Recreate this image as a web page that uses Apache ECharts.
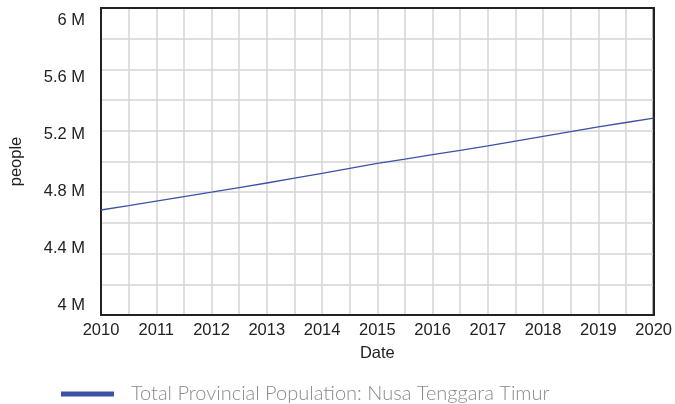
<!DOCTYPE html>
<html>
<head>
<meta charset="utf-8">
<script src="https://cdn.jsdelivr.net/npm/echarts@6/dist/echarts.min.js"></script>
<style>html,body{margin:0;padding:0;background:#fff}#c{width:675px;height:404px}</style>
</head>
<body>
<div id="c"></div>
<script>
// Data (half-yearly readings)
var dates = [2010, 2010.5, 2011, 2011.5, 2012, 2012.5, 2013, 2013.5, 2014, 2014.5, 2015, 2015.5, 2016, 2016.5, 2017, 2017.5, 2018, 2018.5, 2019, 2019.5, 2020];
var population = [4684000, 4712000, 4742000, 4771000, 4800000, 4830000, 4860000, 4891000, 4922000, 4955000, 4988000, 5016000, 5045000, 5073000, 5102000, 5133000, 5164000, 5194000, 5225000, 5254000, 5283000];
var yTickValues = [4000000, 4400000, 4800000, 5200000, 5600000, 6000000];
var seriesName = 'Total Provincial Population: Nusa Tenggara Timur';

var chart = echarts.init(document.getElementById('c'), null, {renderer: 'canvas'});
var axisFont = 'Liberation Sans, Arial, sans-serif';
function fmtM(v) { return (v / 1e6).toString() + ' M'; }

chart.setOption({
  animation: false,
  backgroundColor: '#fff',
  grid: {left: 98, right: 21, top: 8, bottom: 89, show: true, borderColor: '#222', borderWidth: 2, backgroundColor: 'transparent'},
  xAxis: [{
    type: 'value', min: 2010, max: 2020, interval: 0.5,
    name: 'Date', nameLocation: 'middle', nameGap: 30,
    nameTextStyle: {fontFamily: axisFont, fontSize: 16.5, color: '#222'},
    axisLine: {show: true, lineStyle: {color: '#222', width: 2}},
    axisTick: {show: false},
    splitLine: {show: true, showMinLine: false, showMaxLine: false, lineStyle: {color: '#d4d4d4', width: 1.5}},
    axisLabel: {
      fontFamily: axisFont, fontSize: 16.5, color: '#222', margin: 7,
      formatter: function (v) { return (Math.abs(v - Math.round(v)) < 1e-6) ? String(Math.round(v)) : ''; }
    }
  }, {
    type: 'value', min: 2010, max: 2020, position: 'top',
    axisLine: {show: true, onZero: false, lineStyle: {color: '#222', width: 2}},
    axisTick: {show: false}, axisLabel: {show: false}, splitLine: {show: false}
  }],
  yAxis: [{
    type: 'value', min: 4000000, max: 6000000, interval: 200000,
    axisLine: {show: true, lineStyle: {color: '#222', width: 2}},
    axisTick: {show: false},
    axisLabel: {show: false},
    splitLine: {show: true, showMinLine: false, showMaxLine: false, lineStyle: {color: '#d4d4d4', width: 1.5}}
  }, {
    type: 'value', min: 3932000, max: 6086000, position: 'left',
    name: 'people', nameLocation: 'middle', nameGap: 76,
    nameTextStyle: {fontFamily: axisFont, fontSize: 16.5, color: '#222'},
    axisLine: {show: false},
    axisTick: {show: false},
    splitLine: {show: false},
    axisLabel: {
      customValues: yTickValues, showMinLabel: true, showMaxLabel: true,
      fontFamily: axisFont, fontSize: 16.5, color: '#222', margin: 16,
      formatter: fmtM
    }
  }, {
    type: 'value', min: 4000000, max: 6000000, position: 'right',
    axisLine: {show: true, onZero: false, lineStyle: {color: '#222', width: 2}},
    axisTick: {show: false}, axisLabel: {show: false}, splitLine: {show: false}
  }],
  legend: {
    left: 56, top: 379, itemWidth: 53, itemHeight: 5, icon: 'rect',
    textStyle: {fontFamily: 'Lato, Open Sans, sans-serif', fontWeight: 300, fontSize: 20, lineHeight: 20, color: '#8a8a8a', padding: [0, 0, 0, 12]},
    data: [seriesName]
  },
  series: [{
    name: seriesName, type: 'line', xAxisIndex: 0, yAxisIndex: 0, showSymbol: false,
    lineStyle: {color: '#3a53a4', width: 1.3}, itemStyle: {color: '#3a53a4'},
    data: dates.map(function (d, i) { return [d, population[i]]; })
  }]
});
</script>
</body>
</html>
